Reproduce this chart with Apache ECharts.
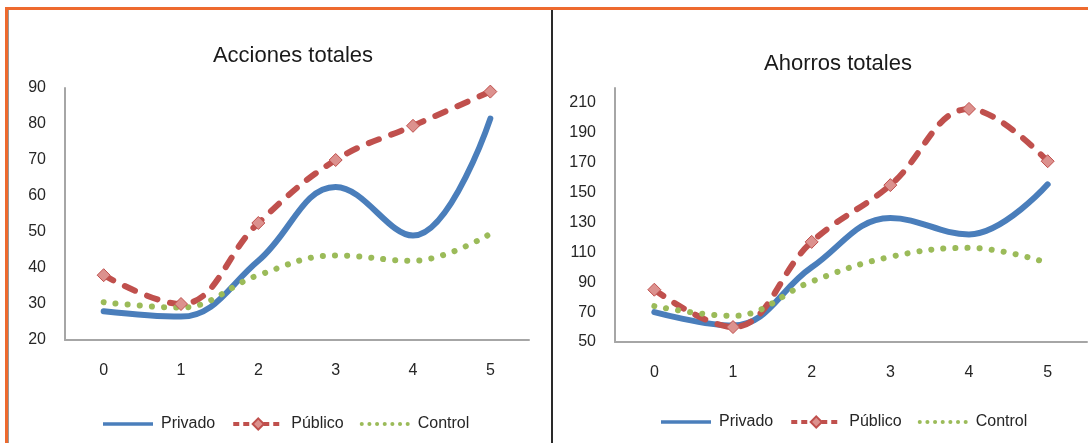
<!DOCTYPE html>
<html>
<head>
<meta charset="utf-8">
<script src="https://cdn.jsdelivr.net/npm/echarts@6/dist/echarts.min.js"></script>
<style>
html,body{margin:0;padding:0;background:#fff;}
#c{width:1088px;height:443px;}
</style>
</head>
<body>
<div id="c"></div>
<script>
const categories = ['0', '1', '2', '3', '4', '5'];
const seriesNames = ['Privado', 'Público', 'Control'];

const accionesPrivado = [28, 26.5, 42, 62.5, 49, 81.5];
const accionesPublico = [38, 30, 52.5, 70, 79.5, 89];
const accionesControl = [30.5, 29, 38, 43.5, 42, 49.5];

const ahorrosPrivado = [70, 61, 100, 133, 122, 155.5];
const ahorrosPublico = [85, 60, 117, 155, 206, 171];
const ahorrosControl = [74, 67.5, 90.5, 107, 113, 103];

const FONT = '"Liberation Sans", Arial, sans-serif';
const BLUE = '#4a7ebb', RED = '#c0504d', GREEN = '#9bbb59';
const AXIS = '#a6a6a6', TEXT = '#262626';
const SMOOTH = 0.4;

function mkSeries(idx, priv, pub, ctrl) {
  return [
    { name: seriesNames[0], type: 'line', xAxisIndex: idx, yAxisIndex: idx, data: priv,
      smooth: SMOOTH, symbol: 'none', lineStyle: { color: BLUE, width: 6, cap: 'round' }, itemStyle: { color: BLUE } },
    { name: seriesNames[1], type: 'line', xAxisIndex: idx, yAxisIndex: idx, data: pub,
      smooth: SMOOTH, symbol: 'diamond', symbolSize: 13, showSymbol: true,
      lineStyle: { color: RED, width: 6, type: [11, 13], cap: 'round' },
      itemStyle: { color: '#dc918e', borderColor: RED, borderWidth: 1 } },
    { name: seriesNames[2], type: 'line', xAxisIndex: idx, yAxisIndex: idx, data: ctrl,
      smooth: SMOOTH, symbol: 'none', lineStyle: { color: GREEN, width: 6, type: [0.1, 12], cap: 'round' }, itemStyle: { color: GREEN } }
  ];
}

function xAx(idx) {
  return { type: 'category', gridIndex: idx, data: categories, boundaryGap: true,
    axisLine: { lineStyle: { color: AXIS, width: 2 } }, axisTick: { show: false },
    axisLabel: { color: TEXT, fontFamily: FONT, fontSize: 16, margin: 23 }, splitLine: { show: false } };
}
function yAx(idx, min, max, interval) {
  return { type: 'value', gridIndex: idx, min: min, max: max, interval: interval,
    axisLine: { show: true, lineStyle: { color: AXIS, width: 2 } }, axisTick: { show: false },
    axisLabel: { color: TEXT, fontFamily: FONT, fontSize: 16, margin: 19, showMaxLabel: idx === 0 },
    splitLine: { show: false } };
}

// legend icons: a solid bar for Privado, a row of dots for Control
const barIcon = 'path://M0,0H50V3.5H0Z';
let dots = '';
for (let i = 0; i < 7; i++) {
  const cx = 2 + i * 7.5;
  dots += 'M' + (cx - 2) + ',2a2,2 0 1,0 4,0a2,2 0 1,0 -4,0Z';
}
const dotIcon = 'path://' + dots;

function legend(left, top) {
  return { left: left, top: top, itemWidth: 50, itemHeight: 14, itemGap: 16,
    selectedMode: false, symbolKeepAspect: true,
    data: [
      { name: seriesNames[0], icon: barIcon },
      { name: seriesNames[1] },
      { name: seriesNames[2], icon: dotIcon }
    ],
    lineStyle: { width: 4, type: [6, 4], cap: 'butt' },
    textStyle: { color: TEXT, fontFamily: FONT, fontSize: 16, padding: [0, 0, 0, 3] } };
}

const chart = echarts.init(document.getElementById('c'), null, { renderer: 'canvas' });
chart.setOption({
  backgroundColor: '#fff',
  animation: false,
  title: [
    { text: 'Acciones totales', left: 288, top: 40, textAlign: 'center',
      textStyle: { fontFamily: FONT, fontSize: 22, fontWeight: 'normal', color: '#1a1a1a' } },
    { text: 'Ahorros totales', left: 833, top: 48, textAlign: 'center',
      textStyle: { fontFamily: FONT, fontSize: 22, fontWeight: 'normal', color: '#1a1a1a' } }
  ],
  legend: [legend(98, 411), legend(656, 409)],
  grid: [
    { left: 65, top: 88, width: 464, height: 252 },
    { left: 615, top: 88, width: 472, height: 254 }
  ],
  xAxis: [xAx(0), xAx(1)],
  yAxis: [yAx(0, 20, 90, 10), yAx(1, 50, 220, 20)],
  series: mkSeries(0, accionesPrivado, accionesPublico, accionesControl)
    .concat(mkSeries(1, ahorrosPrivado, ahorrosPublico, ahorrosControl)),
  graphic: [
    { type: 'rect', shape: { x: 5, y: 7, width: 1083, height: 3 }, style: { fill: '#ee6a2e' }, silent: true },
    { type: 'rect', shape: { x: 5, y: 7, width: 3, height: 436 }, style: { fill: '#ee6a2e' }, silent: true },
    { type: 'line', shape: { x1: 8.5, y1: 10, x2: 8.5, y2: 443 }, style: { stroke: '#9a9a9a', lineWidth: 1 }, silent: true },
    { type: 'line', shape: { x1: 552, y1: 10, x2: 552, y2: 443 }, style: { stroke: '#2a2a2a', lineWidth: 2 }, silent: true }
  ]
});
</script>
</body>
</html>
